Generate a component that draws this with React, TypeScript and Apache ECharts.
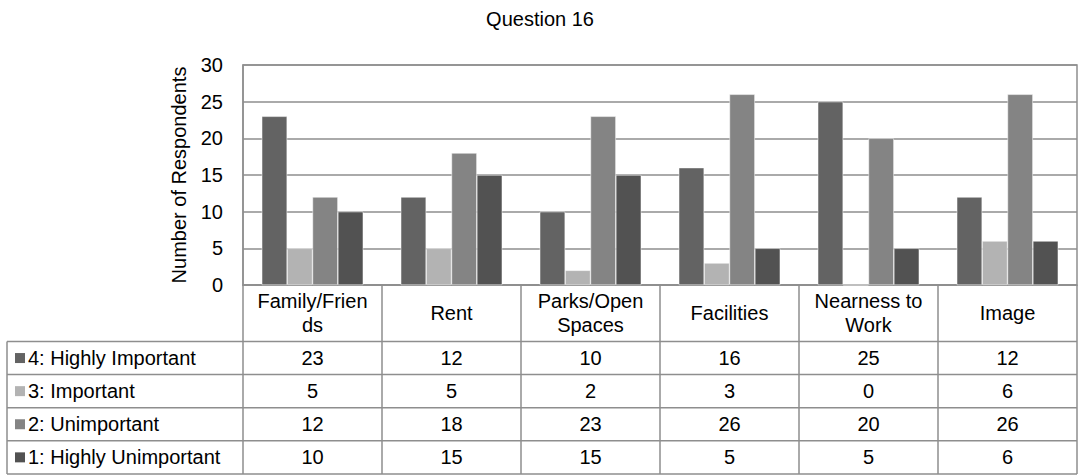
import React, { useEffect, useRef } from "react";
import * as echarts from "echarts";

const chartTitle = "Question 16";
const yAxisTitle = "Number of Respondents";
const categories = ["Family/Friends", "Rent", "Parks/Open Spaces", "Facilities", "Nearness to Work", "Image"];
const categoryLabels = ["Family/Frien\nds", "Rent", "Parks/Open\nSpaces", "Facilities", "Nearness to\nWork", "Image"];
const seriesNames = ["4: Highly Important", "3: Important", "2: Unimportant", "1: Highly Unimportant"];
const highlyImportant = [23, 12, 10, 16, 25, 12];
const important = [5, 5, 2, 3, 0, 6];
const unimportant = [12, 18, 23, 26, 20, 26];
const highlyUnimportant = [10, 15, 15, 5, 5, 6];
const seriesValues = [highlyImportant, important, unimportant, highlyUnimportant];
const seriesColors = ["#636363", "#b3b3b3", "#848484", "#525252"];
const yMin = 0;
const yMax = 30;
const yStep = 5;

const FONT = "'Liberation Sans', Arial, sans-serif";
const FS = 20;
const LINE = "#8e8e8e";

export default function App() {
  const ref = useRef<HTMLDivElement>(null);
  useEffect(() => {
    if (!ref.current) return;
    const chart = echarts.init(ref.current, null, { renderer: "svg" });
    const option: any = {
      animation: false,
      backgroundColor: "#ffffff",
      textStyle: { fontFamily: FONT },
      title: {
        text: chartTitle,
        left: "center",
        top: 4,
        textStyle: { fontFamily: FONT, fontSize: FS, fontWeight: "normal", color: "#000" },
      },
      grid: {
        left: 243,
        right: 3,
        top: 65,
        bottom: 190,
        show: true,
        borderColor: LINE,
        borderWidth: 1.5,
      },
      xAxis: {
        type: "category",
        data: categories,
        axisLine: { show: true, lineStyle: { color: LINE, width: 1.5 } },
        axisTick: { show: false },
        axisLabel: {
          interval: 0,
          formatter: (_v: string, i: number) => categoryLabels[i],
          fontFamily: FONT,
          fontSize: FS,
          lineHeight: 24,
          color: "#000",
          verticalAlign: "middle",
          margin: 28,
        },
      },
      yAxis: {
        type: "value",
        min: yMin,
        max: yMax,
        interval: yStep,
        name: yAxisTitle,
        nameLocation: "middle",
        nameRotate: 90,
        nameGap: 54,
        nameTextStyle: { fontFamily: FONT, fontSize: FS, color: "#000" },
        axisLine: { show: true, lineStyle: { color: LINE, width: 1.5 } },
        axisTick: { show: false },
        splitLine: { show: true, lineStyle: { color: LINE, width: 1.5 } },
        axisLabel: { fontFamily: FONT, fontSize: FS, color: "#000", margin: 20 },
      },
      series: seriesNames.map((name, i) => ({
        name,
        type: "bar",
        data: seriesValues[i],
        barGap: "0%",
        barCategoryGap: "27%",
        itemStyle: { color: seriesColors[i], borderColor: "#ffffff", borderWidth: 0.5 },
      })),
    };
    chart.setOption(option);

    const c0 = chart.convertToPixel({ xAxisIndex: 0 }, categories[0]) as number;
    const c1 = chart.convertToPixel({ xAxisIndex: 0 }, categories[1]) as number;
    const band = c1 - c0;
    const plotLeft = c0 - band / 2;
    const plotRight = plotLeft + band * categories.length;
    const yZero = chart.convertToPixel({ yAxisIndex: 0 }, 0) as number;
    const headerBottom = yZero + 56.5;
    const tableLeft = 7;
    const rowH = 33.1;
    const tableBottom = headerBottom + rowH * seriesNames.length;

    const elements: any[] = [];
    const lineStyle = { stroke: LINE, lineWidth: 1.5 };
    for (let i = 0; i <= categories.length; i++) {
      const x = plotLeft + i * band;
      elements.push({ type: "line", shape: { x1: x, y1: yZero, x2: x, y2: tableBottom }, style: lineStyle, silent: true });
    }
    elements.push({ type: "line", shape: { x1: tableLeft, y1: headerBottom, x2: tableLeft, y2: tableBottom }, style: lineStyle, silent: true });
    for (let r = 0; r <= seriesNames.length; r++) {
      const y = headerBottom + r * rowH;
      elements.push({ type: "line", shape: { x1: tableLeft, y1: y, x2: plotRight, y2: y }, style: lineStyle, silent: true });
    }
    seriesNames.forEach((name, r) => {
      const cy = headerBottom + r * rowH + rowH / 2;
      elements.push({ type: "rect", shape: { x: 15, y: cy - 5, width: 10, height: 10 }, style: { fill: seriesColors[r] }, silent: true });
      elements.push({
        type: "text",
        x: 28,
        y: cy,
        style: { text: name, fontFamily: FONT, fontSize: FS, fill: "#000", align: "left", verticalAlign: "middle", textAlign: "left", textVerticalAlign: "middle" },
        silent: true,
      });
      seriesValues[r].forEach((v, i) => {
        const cx = plotLeft + band * (i + 0.5);
        elements.push({
          type: "text",
          x: cx,
          y: cy,
          style: { text: String(v), fontFamily: FONT, fontSize: FS, fill: "#000", align: "center", verticalAlign: "middle", textAlign: "center", textVerticalAlign: "middle" },
          silent: true,
        });
      });
    });
    chart.setOption({ graphic: { elements } });

    return () => chart.dispose();
  }, []);
  return <div ref={ref} style={{ position: "absolute", left: 0, top: 0, width: 1080, height: 475 }} />;
}
